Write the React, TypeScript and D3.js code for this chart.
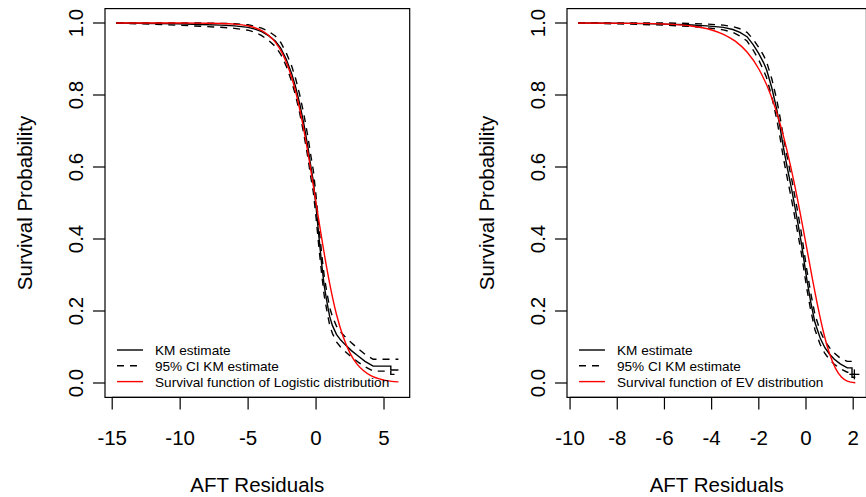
import React from "react";
import * as d3 from "d3";

// left panel: AFT residuals vs logistic fit (repeated x = visible step in the tail)
const leftTime = [-14.7, -10.2, -8.5, -7.0, -6.0, -5.0, -4.5, -4.0, -3.5, -3.0, -2.6, -2.2, -1.8, -1.5, -1.2, -0.9, -0.6, -0.4, -0.2, 0.0, 0.2, 0.4, 0.6, 0.8, 1.0, 1.2, 1.5, 1.8, 2.1, 2.6, 3.1, 3.6, 4.2, 5.5, 5.5, 6.06];
const leftKM = [1.0, 0.998, 0.996, 0.994, 0.992, 0.988, 0.983, 0.976, 0.965, 0.95, 0.93, 0.9, 0.86, 0.822, 0.775, 0.72, 0.655, 0.605, 0.56, 0.49, 0.41, 0.335, 0.27, 0.225, 0.185, 0.16, 0.135, 0.12, 0.108, 0.09, 0.075, 0.06, 0.047, 0.047, 0.036, 0.036];
const leftLower = [1, 0.994, 0.991, 0.988, 0.985, 0.98, 0.974, 0.965, 0.952, 0.935, 0.913, 0.881, 0.838, 0.798, 0.749, 0.692, 0.626, 0.575, 0.53, 0.46, 0.381, 0.307, 0.243, 0.2, 0.161, 0.138, 0.114, 0.1, 0.089, 0.072, 0.058, 0.045, 0.033, 0.033, 0.024, 0.024];
const leftUpper = [1, 1, 1, 0.999, 0.998, 0.995, 0.991, 0.986, 0.977, 0.964, 0.946, 0.918, 0.881, 0.845, 0.8, 0.747, 0.684, 0.635, 0.59, 0.52, 0.439, 0.363, 0.297, 0.25, 0.21, 0.185, 0.158, 0.142, 0.13, 0.112, 0.095, 0.08, 0.066, 0.066, 0.066, 0.066];
const leftFitX = [-14.7, -10, -8, -6, -5, -4, -3.5, -3, -2.5, -2, -1.5, -1, -0.5, 0, 0.5, 1, 1.5, 2, 2.5, 3, 3.5, 4, 5, 6.06];
const leftFitS = [1.0, 0.9999, 0.9995, 0.997, 0.992, 0.979, 0.966, 0.947, 0.917, 0.872, 0.809, 0.723, 0.618, 0.5, 0.382, 0.277, 0.191, 0.128, 0.083, 0.053, 0.034, 0.021, 0.008, 0.003];

// right panel: AFT residuals vs extreme value fit
const rightTime = [-9.66, -7.5, -6.0, -5.0, -4.2, -3.5, -3.1, -2.8, -2.5, -2.24, -2.0, -1.8, -1.67, -1.45, -1.24, -1.1, -0.96, -0.8, -0.6, -0.39, -0.2, 0.03, 0.2, 0.38, 0.6, 0.8, 1.0, 1.2, 1.45, 1.75, 1.95, 1.95, 2.09];
const rightKM = [1.0, 0.999, 0.997, 0.995, 0.992, 0.988, 0.982, 0.974, 0.962, 0.94, 0.915, 0.89, 0.87, 0.82, 0.76, 0.71, 0.655, 0.6, 0.535, 0.46, 0.39, 0.29, 0.225, 0.168, 0.125, 0.098, 0.08, 0.066, 0.053, 0.042, 0.042, 0.024, 0.024];
const rightLower = [1, 0.997, 0.994, 0.991, 0.987, 0.981, 0.974, 0.964, 0.95, 0.925, 0.897, 0.869, 0.848, 0.795, 0.733, 0.682, 0.626, 0.571, 0.506, 0.431, 0.362, 0.264, 0.202, 0.148, 0.107, 0.082, 0.065, 0.052, 0.04, 0.03, 0.03, 0.016, 0.016];
const rightUpper = [1, 1, 1, 0.999, 0.997, 0.994, 0.99, 0.984, 0.974, 0.955, 0.932, 0.91, 0.892, 0.845, 0.787, 0.738, 0.684, 0.629, 0.564, 0.489, 0.418, 0.316, 0.25, 0.19, 0.145, 0.116, 0.098, 0.083, 0.069, 0.06, 0.06, 0.058, 0.058];
const rightFitX = [-9.66, -7, -6, -5, -4, -3.5, -3, -2.5, -2, -1.5, -1, -0.5, 0, 0.25, 0.5, 0.75, 1.0, 1.25, 1.5, 1.75, 2.09];
const rightFitS = [1.0, 0.9989, 0.9972, 0.9926, 0.9806, 0.9686, 0.9495, 0.9193, 0.8722, 0.801, 0.697, 0.556, 0.386, 0.297, 0.213, 0.139, 0.081, 0.0405, 0.0168, 0.0055, 0.0007];
const rightCensor = [[2.05, 0.024]];

const leftTicks = [-15, -10, -5, 0, 5];
const rightTicks = [-10, -8, -6, -4, -2, 0, 2];
const yTicks = [0, 0.2, 0.4, 0.6, 0.8, 1.0];
const legendLabels = ["KM estimate", "95% CI KM estimate"];

const FONT = "'Liberation Sans', Arial, Helvetica, sans-serif";
const TOP = 8.6;
const BOTTOM = 397.4;

function Panel({ left, right, time, km, lower, upper, fitX, fitS, ticks, fitLabel, censor = [] }) {
  const ext = d3.extent(time);
  const pad = (ext[1] - ext[0]) * 0.04;
  const x = d3.scaleLinear().domain([ext[0] - pad, ext[1] + pad]).range([left, right]);
  const y = d3.scaleLinear().domain([-0.04, 1.04]).range([BOTTOM, TOP]);

  const poly = d3.line().x((d) => x(d[0])).y((d) => y(d[1]));
  const smooth = d3.line().x((d) => x(d[0])).y((d) => y(d[1])).curve(d3.curveMonotoneX);

  const zip = (a, b) => a.map((v, i) => [v, b[i]]);
  const fmt = d3.format(".1f");
  const midX = (left + right) / 2;
  const midY = (TOP + BOTTOM) / 2;
  const tick = 12;

  const rows = [350, 365.8, 381.6];

  return (
    <g>
      {/* curves */}
      <path d={poly(zip(time, upper))} fill="none" stroke="#000" strokeWidth={1.4} strokeDasharray="7,6" />
      <path d={poly(zip(time, lower))} fill="none" stroke="#000" strokeWidth={1.4} strokeDasharray="7,6" />
      <path d={poly(zip(time, km))} fill="none" stroke="#000" strokeWidth={1.4} />
      <path d={smooth(zip(fitX, fitS))} fill="none" stroke="#ff0000" strokeWidth={1.4} />
      {censor.map((c, i) => (
        <g key={i} stroke="#000" strokeWidth={1.3}>
          <line x1={x(c[0]) - 5} x2={x(c[0]) + 5} y1={y(c[1])} y2={y(c[1])} />
          <line x1={x(c[0])} x2={x(c[0])} y1={y(c[1]) - 5} y2={y(c[1]) + 5} />
        </g>
      ))}

      {/* box */}
      <rect x={left} y={TOP} width={right - left} height={BOTTOM - TOP} fill="none" stroke="#000" strokeWidth={1.2} />

      {/* x axis */}
      <line x1={x(ticks[0])} x2={x(ticks[ticks.length - 1])} y1={BOTTOM} y2={BOTTOM} stroke="#000" strokeWidth={1.2} />
      {ticks.map((t) => (
        <g key={t}>
          <line x1={x(t)} x2={x(t)} y1={BOTTOM} y2={BOTTOM + tick} stroke="#000" strokeWidth={1.2} />
          <text x={x(t)} y={445} textAnchor="middle" fontSize={20.5} fontFamily={FONT}>{t}</text>
        </g>
      ))}
      <text x={midX} y={492} textAnchor="middle" fontSize={20.5} fontFamily={FONT}>AFT Residuals</text>

      {/* y axis */}
      {yTicks.map((t) => (
        <g key={t}>
          <line x1={left - tick} x2={left} y1={y(t)} y2={y(t)} stroke="#000" strokeWidth={1.2} />
          <text transform={`translate(${left - 22},${y(t)}) rotate(-90)`} textAnchor="middle" fontSize={20.5} fontFamily={FONT}>{fmt(t)}</text>
        </g>
      ))}
      <text transform={`translate(${left - 73},${midY}) rotate(-90)`} textAnchor="middle" fontSize={20.5} fontFamily={FONT}>Survival Probability</text>

      {/* legend */}
      <line x1={left + 12} x2={left + 38} y1={rows[0]} y2={rows[0]} stroke="#000" strokeWidth={1.4} />
      <line x1={left + 12} x2={left + 38} y1={rows[1]} y2={rows[1]} stroke="#000" strokeWidth={1.4} strokeDasharray="7,6" />
      <line x1={left + 12} x2={left + 38} y1={rows[2]} y2={rows[2]} stroke="#ff0000" strokeWidth={1.4} />
      {[...legendLabels, fitLabel].map((l, i) => (
        <text key={l} x={left + 50} y={rows[i] + 5} fontSize={13.6} fontFamily={FONT}>{l}</text>
      ))}
    </g>
  );
}

export default function App() {
  return (
    <svg width={866} height={497} style={{ position: "absolute", left: 0, top: 0, background: "#fff" }}>
      <Panel
        left={105}
        right={409.7}
        time={leftTime}
        km={leftKM}
        lower={leftLower}
        upper={leftUpper}
        fitX={leftFitX}
        fitS={leftFitS}
        ticks={leftTicks}
        fitLabel="Survival function of Logistic distribution"
      />
      <Panel
        left={567}
        right={866.4}
        time={rightTime}
        km={rightKM}
        lower={rightLower}
        upper={rightUpper}
        fitX={rightFitX}
        fitS={rightFitS}
        ticks={rightTicks}
        fitLabel="Survival function of EV distribution"
        censor={rightCensor}
      />
    </svg>
  );
}
